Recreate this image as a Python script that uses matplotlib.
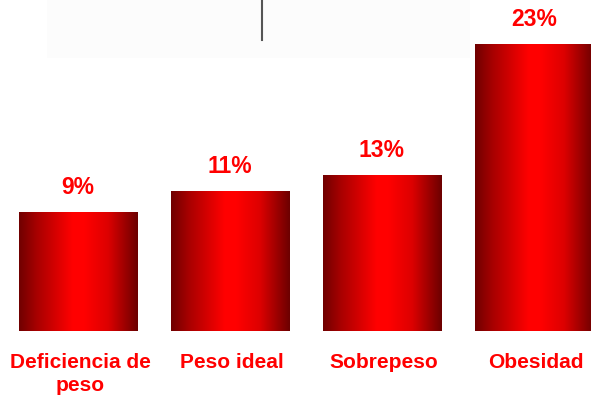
import matplotlib
matplotlib.use("Agg")
import matplotlib.pyplot as plt
import numpy as np
from matplotlib.colors import LinearSegmentedColormap
from matplotlib.patches import Rectangle

categories = ["Deficiencia de\npeso", "Peso ideal", "Sobrepeso", "Obesidad"]
values = [9.5, 11.2, 12.5, 23.0]
value_labels = ["9%", "11%", "13%", "23%"]

W, H = 591, 401
fig = plt.figure(figsize=(W / 100, H / 100), dpi=100)
fig.patch.set_facecolor("white")

# faint background panel and a vertical stroke at top
fig.patches.append(Rectangle((47 / W, 1 - 58 / H), (470 - 47) / W, 58 / H,
                             transform=fig.transFigure, facecolor="#fcfcfc",
                             edgecolor="none", zorder=0))
fig.lines.append(plt.Line2D([262 / W, 262 / W], [1, 1 - 40 / H],
                            transform=fig.transFigure, color="#555555", lw=1.5))

ax = fig.add_axes([0, 0, 1, 1])
ax.set_facecolor("none")
ax.axis("off")

cmap = LinearSegmentedColormap.from_list("g", [
    (0.0, "#700000"), (0.15, "#a80000"), (0.45, "#ff0000"), (0.55, "#ff0000"),
    (0.75, "#dd0000"), (1.0, "#6c0000")])
grad = np.linspace(0, 1, 256).reshape(1, -1)

x = np.arange(len(values))
bars = ax.bar(x, values, width=0.78, color="none", edgecolor="none")
for b in bars:
    x0, y0, w, h = b.get_x(), b.get_y(), b.get_width(), b.get_height()
    im = ax.imshow(grad, cmap=cmap, aspect="auto",
                   extent=(x0, x0 + w, y0, y0 + h), zorder=2)
    im.set_clip_path(b)

ax.set_xlim(-0.513, 3.375)
ax.set_ylim(-5.6, 26.48)

font = dict(family="Liberation Sans", weight="bold", color="#ff0000")
for xi, v, lab in zip(x, values, value_labels):
    ax.annotate(lab, (xi, v), xytext=(0, 13), textcoords="offset pixels",
                ha="center", va="bottom", fontsize=16.5, **font)
for xi, cat in zip(x, categories):
    ax.annotate(cat, (xi, 0), xytext=(2, -22), textcoords="offset pixels",
                ha="center", va="top", fontsize=15, linespacing=1.25,
                **font)

fig.savefig("out.png", dpi=100)
